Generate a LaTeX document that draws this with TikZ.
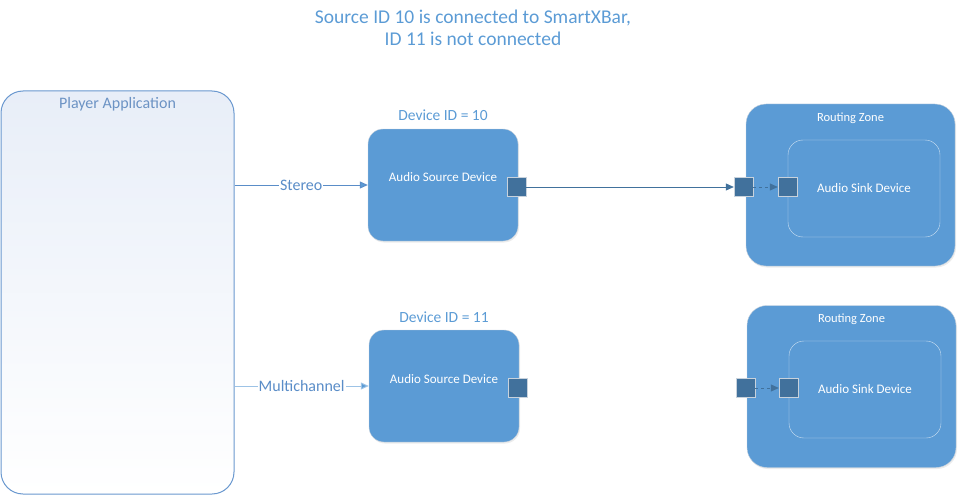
\documentclass[tikz,border=0pt]{standalone}
\usepackage{fontspec}
\setmainfont{Carlito}
\usetikzlibrary{arrows.meta,shadows}
\definecolor{boxblue}{HTML}{5B9BD5}
\definecolor{portblue}{HTML}{41719C}
\definecolor{edgegray}{HTML}{C8D2DC}
\definecolor{appline}{HTML}{6A98CF}
\definecolor{apptext}{HTML}{6C93C4}
\definecolor{appfill}{HTML}{E8EEF8}
\definecolor{stereoline}{HTML}{5A8DC8}
\definecolor{multiline}{HTML}{9DC3E6}

\begin{document}
\begin{tikzpicture}[x=1pt, y=-1pt,
  app/.style={draw=appline, line width=1pt, rounded corners=22pt, top color=appfill, middle color=white, bottom color=white, minimum width=233pt, minimum height=403pt, inner sep=0pt},
  device/.style={draw=edgegray, fill=boxblue, rounded corners=15pt, minimum width=150pt, minimum height=112pt, inner sep=0pt, drop shadow={opacity=0.15, shadow xshift=1pt, shadow yshift=-1.5pt}},
  zone/.style={draw=edgegray, fill=boxblue, rounded corners=20pt, minimum width=209pt, minimum height=162pt, inner sep=0pt, drop shadow={opacity=0.15, shadow xshift=1pt, shadow yshift=-1.5pt}},
  sink/.style={draw=white!70!boxblue, rounded corners=15pt, minimum width=152pt, minimum height=97pt, text=white, font=\fontsize{13}{15}\selectfont},
  port/.style={draw=edgegray, fill=portblue, minimum size=19pt, inner sep=0pt},
  whitetext/.style={text=white, font=\fontsize{13}{15}\selectfont},
  zonetext/.style={text=white, font=\fontsize{12.5}{15}\selectfont},
  bluetext/.style={text=boxblue, font=\fontsize{15.5}{18}\selectfont},
  flowlabel/.style={fill=white, inner sep=1pt, text=stereoline, font=\fontsize{16}{18}\selectfont},
  flow/.style={line width=1pt, -{Triangle[length=8pt, width=7pt, fill=boxblue]}},
  link/.style={draw=portblue, line width=0.8pt, -{Triangle[length=8pt, width=7pt]}}
]
\useasboundingbox (0,0) rectangle (962,495);

\node [bluetext, align=center, font=\fontsize{19.5}{22}\selectfont] (title) at (473,28) {Source ID 10 is connected to SmartXBar,\\ID 11 is not connected};

\node [app] (app) at (117.5,292.5) {};
\node [text=apptext, font=\fontsize{16}{18}\selectfont] (applabel) at ([yshift=-14pt]app.north) {Player Application};

% source devices
\node [device] (src1) at (443,185) {};
\node [whitetext] at ([yshift=8pt]src1.center) {Audio Source Device};
\node [bluetext] (id1) at ([yshift=14pt]src1.north) {Device ID = 10};
\node [port] (p1) at (516.5,187) {};

\node [device] (src2) at (444,386) {};
\node [whitetext] at ([yshift=7pt]src2.center) {Audio Source Device};
\node [bluetext] (id2) at ([yshift=13pt]src2.north) {Device ID = 11};
\node [port] (p2) at (517.5,388) {};

% routing zones
\node [zone] (zone1) at (850.5,185) {};
\node [zonetext] at ([yshift=-14pt]zone1.north) {Routing Zone};
\node [sink] (sink1) at (864,188.5) {Audio Sink Device};
\node [port] (zp1) at (743.5,187) {};
\node [port] (sp1) at (787.5,187) {};

\node [zone] (zone2) at (851.5,386.5) {};
\node [zonetext] at ([yshift=-14pt]zone2.north) {Routing Zone};
\node [sink] (sink2) at (865,389.5) {Audio Sink Device};
\node [port] (zp2) at (745.5,388) {};
\node [port] (sp2) at (788.5,388) {};

\draw [flow, stereoline] (app.east |- src1.west) -- node [flowlabel] {Stereo} (src1.west);
\draw [flow, multiline] (app.east |- src2.west) -- node [flowlabel] {Multichannel} (src2.west);

\draw [link] (p1.east) -- (zp1.west);
\draw [link, dashed] (zp1.east) -- (sp1.west);
\draw [link, dashed] (zp2.east) -- (sp2.west);
\end{tikzpicture}
\end{document}
